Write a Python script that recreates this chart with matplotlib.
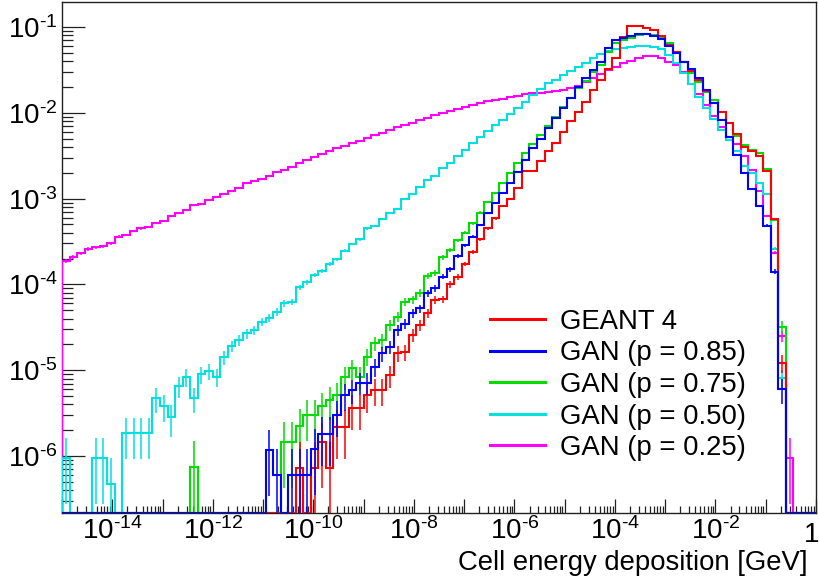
import numpy as np
import matplotlib
matplotlib.use('Agg')
import matplotlib.pyplot as plt
from matplotlib.ticker import FixedLocator, LogLocator, FuncFormatter, NullFormatter
from matplotlib.lines import Line2D

plt.rcParams['font.family'] = ['Liberation Sans', 'DejaVu Sans']
plt.rcParams['mathtext.fontset'] = 'custom'
plt.rcParams['mathtext.rm'] = 'Liberation Sans'
plt.rcParams['mathtext.it'] = 'Liberation Sans:italic'
plt.rcParams['mathtext.bf'] = 'Liberation Sans:bold'

# ---------------- data: 100 log bins between 1e-15 and 1 GeV ----------------

log_lo, log_hi, n_bins = -15, 0, 100

geant4 = [0] * 31 + [
    7.2e-7, 0, 7.2e-7, 1.44e-6, 7.2e-7, 2.16e-6, 2.16e-6, 3.6e-6, 3.6e-6,          # 31-39
    5.1e-6, 5.87e-6, 5.87e-6, 8.8e-6, 1.57e-5, 1.64e-5, 2.57e-5, 3.37e-5, 4.6e-5, 6.58e-5,  # 40-49
    6.69e-5, 1.0e-4, 1.23e-4, 1.73e-4, 2.4e-4, 3.36e-4, 4.51e-4, 5.89e-4, 8.2e-4, 9.82e-4,  # 50-59
    1.32e-3, 2.11e-3, 2.11e-3, 2.72e-3, 3.57e-3, 4.49e-3, 6.03e-3, 8.02e-3, 1.03e-2, 1.35e-2,  # 60-69
    1.84e-2, 2.41e-2, 3.24e-2, 4.31e-2, 7.71e-2, 1.04e-1, 1.04e-1, 9.82e-2, 9.23e-2, 7.92e-2,  # 70-79
    6.17e-2, 5.07e-2, 3.94e-2, 3.1e-2, 2.4e-2, 1.8e-2, 1.31e-2, 1.01e-2, 7.54e-3, 5.66e-3,  # 80-89
    3.96e-3, 3.62e-3, 3.16e-3, 2.1e-3, 5.8e-4, 1.22e-5, 0, 0, 0, 0]                  # 90-99

gan_085 = [0] * 27 + [
    1.19e-6, 6.0e-7, 0,                                                              # 27-29
    6.0e-7, 6.0e-7, 6.0e-7, 1.2e-6, 1.8e-6, 1.8e-6, 3.0e-6, 5.1e-6, 5.87e-6, 7.16e-6,  # 30-39
    7.16e-6, 1.1e-5, 1.57e-5, 1.88e-5, 2.94e-5, 3.45e-5, 4.6e-5, 5.26e-5, 7.85e-5, 9.0e-5,  # 40-49
    1.23e-4, 1.5e-4, 2.14e-4, 2.86e-4, 3.6e-4, 4.92e-4, 6.85e-4, 8.81e-4, 1.15e-3, 1.53e-3,  # 50-59
    2.06e-3, 2.82e-3, 3.85e-3, 4.97e-3, 6.59e-3, 8.62e-3, 1.15e-2, 1.5e-2, 2.01e-2, 2.52e-2,  # 60-69
    3.15e-2, 3.94e-2, 5.64e-2, 7.05e-2, 7.51e-2, 7.86e-2, 8.22e-2, 8.29e-2, 7.92e-2, 7.25e-2,  # 70-79
    6.05e-2, 4.94e-2, 3.94e-2, 3.24e-2, 2.52e-2, 1.84e-2, 1.31e-2, 8.24e-3, 5.27e-3, 3.22e-3,  # 80-89
    2.0e-3, 1.29e-3, 8.26e-4, 4.83e-4, 1.41e-4, 5.98e-6, 0, 0, 0, 0]                  # 90-99

gan_075 = [0] * 17 + [7.5e-7] + [0] * 11 + [
    1.47e-6,                                                                         # 29
    1.47e-6, 2.26e-6, 3.01e-6, 3.0e-6, 3.8e-6, 4.5e-6, 5.1e-6, 8.4e-6, 1.05e-5, 8.4e-6,  # 30-39
    1.44e-5, 2.06e-5, 2.25e-5, 3.37e-5, 4.21e-5, 6.29e-5, 6.69e-5, 8.0e-5, 1.25e-4, 1.37e-4,  # 40-49
    2.07e-4, 2.52e-4, 3.27e-4, 4.01e-4, 5.15e-4, 6.85e-4, 9.06e-4, 1.17e-3, 1.51e-3, 2.0e-3,  # 50-59
    2.62e-3, 3.43e-3, 4.3e-3, 5.51e-3, 7.05e-3, 9.02e-3, 1.18e-2, 1.5e-2, 1.96e-2, 2.35e-2,  # 60-69
    2.96e-2, 3.61e-2, 5.16e-2, 6.46e-2, 7.05e-2, 7.51e-2, 8.07e-2, 8.22e-2, 8.07e-2, 7.51e-2,  # 70-79
    6.46e-2, 5.16e-2, 3.94e-2, 2.94e-2, 2.31e-2, 1.76e-2, 1.41e-2, 1.03e-2, 7.54e-3, 5.37e-3,  # 80-89
    4.22e-3, 3.68e-3, 3.43e-3, 2.19e-3, 5.63e-4, 3.21e-5, 0, 0, 0, 0]                # 90-99

gan_050 = [
    9.4e-7, 0, 0, 0, 9.4e-7, 9.4e-7, 4.7e-7, 0, 1.87e-6, 1.87e-6,                    # 0-9
    1.87e-6, 1.87e-6, 4.7e-6, 3.83e-6, 2.82e-6, 6.55e-6, 8.4e-6, 4.7e-6, 8.95e-6, 9.79e-6,  # 10-19
    8.4e-6, 1.41e-5, 1.91e-5, 2.25e-5, 2.69e-5, 2.94e-5, 3.68e-5, 4.09e-5, 4.81e-5, 6.03e-5,  # 20-29
    6.29e-5, 9.3e-5, 1.06e-4, 1.29e-4, 1.45e-4, 1.73e-4, 1.96e-4, 2.47e-4, 2.96e-4, 3.36e-4,  # 30-39
    4.51e-4, 4.8e-4, 5.73e-4, 6.73e-4, 7.6e-4, 9.9e-4, 1.13e-3, 1.37e-3, 1.63e-3, 1.85e-3,  # 40-49
    2.25e-3, 2.63e-3, 3.12e-3, 3.68e-3, 4.41e-3, 5.18e-3, 6.1e-3, 7.17e-3, 8.31e-3, 9.77e-3,  # 50-59
    1.13e-2, 1.32e-2, 1.61e-2, 1.9e-2, 2.21e-2, 2.41e-2, 2.76e-2, 3.07e-2, 3.45e-2, 3.78e-2,  # 60-69
    4.31e-2, 4.81e-2, 5.25e-2, 5.54e-2, 5.64e-2, 5.79e-2, 6.01e-2, 6.01e-2, 5.9e-2, 5.49e-2,  # 70-79
    4.72e-2, 3.78e-2, 2.9e-2, 2.17e-2, 1.54e-2, 1.13e-2, 8.39e-3, 6.31e-3, 4.82e-3, 3.59e-3,  # 80-89
    2.4e-3, 1.97e-3, 1.5e-3, 1.12e-3, 2.6e-4, 8.2e-6, 0, 0, 0, 0]                    # 90-99

gan_025 = [
    1.89e-4, 2.1e-4, 2.3e-4, 2.59e-4, 2.7e-4, 2.8e-4, 3.01e-4, 3.6e-4, 3.77e-4, 4.19e-4,  # 0-9
    4.51e-4, 4.71e-4, 5.15e-4, 5.52e-4, 6.26e-4, 6.85e-4, 7.36e-4, 8.35e-4, 8.57e-4, 9.64e-4,  # 10-19
    1.04e-3, 1.13e-3, 1.23e-3, 1.32e-3, 1.51e-3, 1.6e-3, 1.71e-3, 1.83e-3, 2.02e-3, 2.17e-3,  # 20-29
    2.32e-3, 2.58e-3, 2.84e-3, 3.08e-3, 3.31e-3, 3.62e-3, 3.89e-3, 4.14e-3, 4.41e-3, 4.73e-3,  # 30-39
    5.08e-3, 5.47e-3, 5.87e-3, 6.31e-3, 6.78e-3, 7.27e-3, 7.67e-3, 8.24e-3, 8.77e-3, 9.35e-3,  # 40-49
    1.0e-2, 1.05e-2, 1.12e-2, 1.18e-2, 1.23e-2, 1.31e-2, 1.36e-2, 1.41e-2, 1.46e-2, 1.51e-2,  # 50-59
    1.57e-2, 1.64e-2, 1.69e-2, 1.72e-2, 1.74e-2, 1.79e-2, 1.84e-2, 1.93e-2, 2.07e-2, 2.31e-2,  # 60-69
    2.52e-2, 2.81e-2, 3.15e-2, 3.45e-2, 3.78e-2, 4.02e-2, 4.39e-2, 4.59e-2, 4.59e-2, 4.39e-2,  # 70-79
    3.94e-2, 3.61e-2, 3.0e-2, 2.17e-2, 1.64e-2, 1.23e-2, 9.18e-3, 6.89e-3, 5.27e-3, 4.3e-3,  # 80-89
    3.14e-3, 2.16e-3, 1.23e-3, 6.32e-4, 2.35e-4, 2.5e-5, 9.4e-7, 0, 0, 0]              # 90-99

labels = ['GEANT 4', 'GAN (p = 0.85)', 'GAN (p = 0.75)', 'GAN (p = 0.50)', 'GAN (p = 0.25)']
series = [geant4, gan_085, gan_075, gan_050, gan_025]
colors = ['#ff0000', '#0000ff', '#00dd00', '#00e0e0', '#ff00ff']
# weight of a single entry in each normalised histogram (poisson errors)
entry_weight = [7.2e-7, 6.0e-7, 7.5e-7, 4.7e-7, 4.7e-7]

X_MIN, X_MAX = 1e-15, 1.0
Y_MIN, Y_MAX = 2.17e-7, 0.1954

# ---------------------------------------------------------------------------

fig = plt.figure(figsize=(8.2, 5.85), dpi=100)
ax = fig.add_axes([62 / 820, 1 - 513 / 585, 754 / 820, 511 / 585])

edges = np.logspace(log_lo, log_hi, n_bins + 1)
centers = np.sqrt(edges[:-1] * edges[1:])

# draw order as in the original canvas
for idx in [4, 3, 2, 0, 1]:
    vals = np.array(series[idx], dtype=float)
    shown = np.where(vals > 0, vals, Y_MIN)  # empty bins sit on the frame
    ax.stairs(shown, edges, baseline=Y_MIN, color=colors[idx], lw=1.5, zorder=3)

    nz = vals > 0
    err = np.sqrt(vals[nz] * entry_weight[idx])
    lo = np.clip(vals[nz] - err, 1e-12, None)
    hi = vals[nz] + err
    ax.vlines(centers[nz], lo, hi, color=colors[idx], lw=1.1, zorder=3)

ax.set_xscale('log')
ax.set_yscale('log')
ax.set_xlim(X_MIN, X_MAX)
ax.set_ylim(Y_MIN, Y_MAX)


def pow_label(e):
    # ROOT style: short hyphen in the exponent
    return r'$10^{\text{-}%d}$' % -e if e < 0 else r'$10^{%d}$' % e


def x_label(v, pos):
    e = int(round(np.log10(v)))
    if e % 2 == 0 and e < 0:
        return pow_label(e)
    return ''


ax.xaxis.set_major_locator(FixedLocator(10.0 ** np.arange(-15, 1)))
ax.xaxis.set_major_formatter(FuncFormatter(x_label))
ax.xaxis.set_minor_locator(LogLocator(base=10, subs=np.arange(2, 10), numticks=100))
ax.xaxis.set_minor_formatter(NullFormatter())

ax.yaxis.set_major_locator(FixedLocator(10.0 ** np.arange(-7, 1)))
ax.yaxis.set_major_formatter(FuncFormatter(lambda v, pos: pow_label(int(round(np.log10(v))))))
ax.yaxis.set_minor_locator(LogLocator(base=10, subs=np.arange(2, 10), numticks=100))
ax.yaxis.set_minor_formatter(NullFormatter())

ax.tick_params(axis='both', which='both', direction='in', top=False, right=False,
               labelsize=20, width=0.9, color='#222222')
ax.tick_params(axis='x', which='major', length=10, pad=3)
ax.tick_params(axis='x', which='minor', length=5)
ax.tick_params(axis='y', which='major', length=16.5, pad=3)
ax.tick_params(axis='y', which='minor', length=8)
for sp in ax.spines.values():
    sp.set_linewidth(1.0)
    sp.set_color('#222222')

# the "1" at the right end of the x axis, kept inside the canvas
fig.text(812 / 820, 1 - 541.5 / 585, '1', ha='center', va='baseline', fontsize=20)

fig.text(808 / 820, 1 - 569.5 / 585, 'Cell energy deposition [GeV]', ha='right', va='baseline',
         fontsize=19.8)

handles = [Line2D([], [], color=c, lw=2.2) for c in colors]
ax.legend(handles, labels, loc='upper left', bbox_to_anchor=(490 / 820, 1 - 309 / 585),
          bbox_transform=fig.transFigure, frameon=False, fontsize=19.8,
          handlelength=2.0, handletextpad=0.55, labelspacing=0.2, borderpad=0, borderaxespad=0)

fig.savefig('out.png', dpi=100)
